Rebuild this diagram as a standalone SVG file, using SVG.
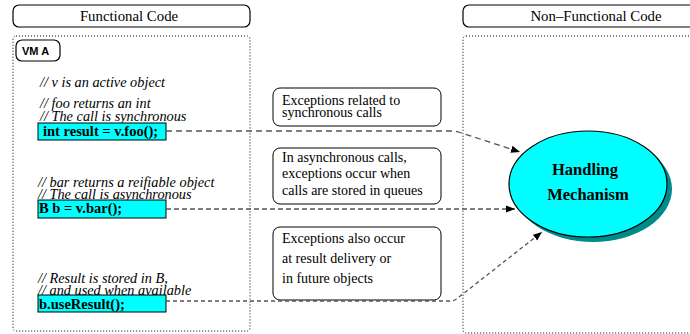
<svg xmlns="http://www.w3.org/2000/svg" width="690" height="334" viewBox="0 0 690 334">
<style>
.hdr{fill:#fff;stroke:#000;stroke-width:1.2}
.cont{fill:none;stroke:#000;stroke-width:1;stroke-dasharray:1 2}
.t{font-family:"Liberation Serif","Times New Roman",serif;font-size:14px;fill:#000}
.h{font-family:"Liberation Serif","Times New Roman",serif;font-size:14.8px;fill:#000;text-anchor:middle}
.c{font-family:"Liberation Serif","Times New Roman",serif;font-size:14.3px;font-style:italic;fill:#000}
.code{fill:#00ffff;stroke:#000;stroke-width:1}
.ct{font-family:"Liberation Serif","Times New Roman",serif;font-size:14.5px;font-weight:bold;fill:#000}
.box{fill:#fff;stroke:#000;stroke-width:1}
.conn{fill:none;stroke:#555;stroke-width:1.3}
</style>
<defs>
<marker id="arr" viewBox="0 0 10 10" refX="10" refY="5" markerWidth="9" markerHeight="9" markerUnits="userSpaceOnUse" orient="auto">
<path d="M0,1 L10,5 L0,9 Z" fill="#000"/>
</marker>
</defs>

<g id="functional-header">
<rect class="hdr" x="13" y="5" width="237" height="22" rx="6"/>
<text class="h" x="129" y="21">Functional Code</text>
</g>
<g id="functional-area">
<rect class="cont" x="13" y="36" width="237" height="295" rx="3"/>
</g>
<g id="vm-a">
<rect x="16" y="40" width="44" height="21" rx="6" fill="#fff" stroke="#000" stroke-width="1.2"/>
<text x="22" y="55" font-family="Liberation Sans,Arial,sans-serif" font-size="11" font-weight="bold">VM A</text>
</g>

<g id="nonfunctional-header">
<rect class="hdr" x="463" y="5" width="240" height="22" rx="6"/>
<text class="h" x="596" y="21">Non–Functional Code</text>
</g>
<g id="nonfunctional-area">
<rect class="cont" x="463" y="36" width="240" height="297" rx="3"/>
</g>

<g id="comments">
<text class="c" x="40" y="87">// v is an active object</text>
<text class="c" x="40" y="108">// foo returns an int</text>
<text class="c" x="40" y="121">// The call is synchronous</text>
<text class="c" x="38" y="187">// bar returns a reifiable object</text>
<text class="c" x="38" y="199">// The call is asynchronous</text>
<text class="c" x="38" y="283">// Result is stored in B,</text>
<text class="c" x="38" y="295">// and used when available</text>
</g>

<g id="call-foo">
<rect class="code" x="38" y="123" width="128" height="17"/>
<text class="ct" x="43" y="136">int result = v.foo();</text>
</g>
<g id="call-bar">
<rect class="code" x="38" y="200" width="128" height="18"/>
<text class="ct" x="39" y="213">B b = v.bar();</text>
</g>
<g id="call-use">
<rect class="code" x="38" y="295" width="128" height="17"/>
<text class="ct" x="39" y="309">b.useResult();</text>
</g>

<g id="note-sync">
<rect class="box" x="273" y="88" width="168" height="38" rx="7"/>
<text class="t" x="282" y="105">Exceptions related to</text>
<text class="t" x="282" y="117">synchronous calls</text>
</g>
<g id="note-async">
<rect class="box" x="273" y="148" width="168" height="56" rx="7"/>
<text class="t" x="282" y="162">In asynchronous calls,</text>
<text class="t" x="282" y="178">exceptions occur when</text>
<text class="t" x="282" y="195">calls are stored in queues</text>
</g>
<g id="note-future">
<rect class="box" x="273" y="227" width="168" height="73" rx="7"/>
<text class="t" x="282" y="243">Exceptions also occur</text>
<text class="t" x="282" y="263">at result delivery or</text>
<text class="t" x="282" y="283">in future objects</text>
</g>

<g id="handling-mechanism">
<ellipse cx="593" cy="189" rx="79" ry="53" fill="#008b8b"/>
<ellipse cx="588" cy="184" rx="79" ry="53" fill="#00ffff" stroke="#000" stroke-width="1.2"/>
<text x="585" y="175" text-anchor="middle" font-family="Liberation Serif,Times New Roman,serif" font-size="16.5" font-weight="bold">Handling</text>
<text x="588" y="200" text-anchor="middle" font-family="Liberation Serif,Times New Roman,serif" font-size="16.5" font-weight="bold">Mechanism</text>
</g>

<g id="connectors">
<path class="conn" stroke-dasharray="6 4" d="M166,131 L452,131 Q456,131 460,132.5 L520,152" marker-end="url(#arr)"/>
<path class="conn" stroke-dasharray="5 3" d="M166,209 L515,209" marker-end="url(#arr)"/>
<path class="conn" stroke-dasharray="4 3" d="M166,301 L450,301 Q455,301 459,297 L542,232" marker-end="url(#arr)"/>
</g>
</svg>
